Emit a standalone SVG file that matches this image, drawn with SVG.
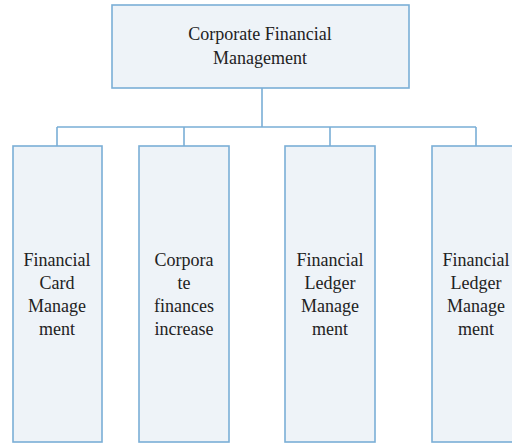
<svg xmlns="http://www.w3.org/2000/svg" width="512" height="443" viewBox="0 0 512 443">
<style>
.box{fill:#eef3f8;stroke:#7aaed6;stroke-width:1.6}
.ln{stroke:#7aaed6;stroke-width:1.6;fill:none}
.t{font-family:'Liberation Serif','DejaVu Serif',serif;font-size:18px;fill:#222;text-anchor:middle}
</style>
<rect width="512" height="443" fill="#ffffff"/>
<g id="connectors">
<path class="ln" d="M262 88V127M57 127H476M57 127V146M184 127V146M330 127V146M476 127V146"/>
</g>
<g id="root" class="t">
<rect class="box" x="112" y="5" width="297" height="83"/>
<text x="260" y="40">Corporate Financial</text>
<text x="260" y="64">Management</text>
</g>
<g id="n1" class="t">
<rect class="box" x="13" y="146" width="89" height="296"/>
<text x="57" y="266">Financial</text>
<text x="57" y="289">Card</text>
<text x="57" y="312">Manage</text>
<text x="57" y="335">ment</text>
</g>
<g id="n2" class="t">
<rect class="box" x="139" y="146" width="90" height="296"/>
<text x="184" y="266">Corpora</text>
<text x="184" y="289">te</text>
<text x="184" y="312">finances</text>
<text x="184" y="335">increase</text>
</g>
<g id="n3" class="t">
<rect class="box" x="285" y="146" width="90" height="296"/>
<text x="330" y="266">Financial</text>
<text x="330" y="289">Ledger</text>
<text x="330" y="312">Manage</text>
<text x="330" y="335">ment</text>
</g>
<g id="n4" class="t">
<rect class="box" x="432" y="146" width="90" height="296"/>
<text x="476" y="266">Financial</text>
<text x="476" y="289">Ledger</text>
<text x="476" y="312">Manage</text>
<text x="476" y="335">ment</text>
</g>
</svg>
